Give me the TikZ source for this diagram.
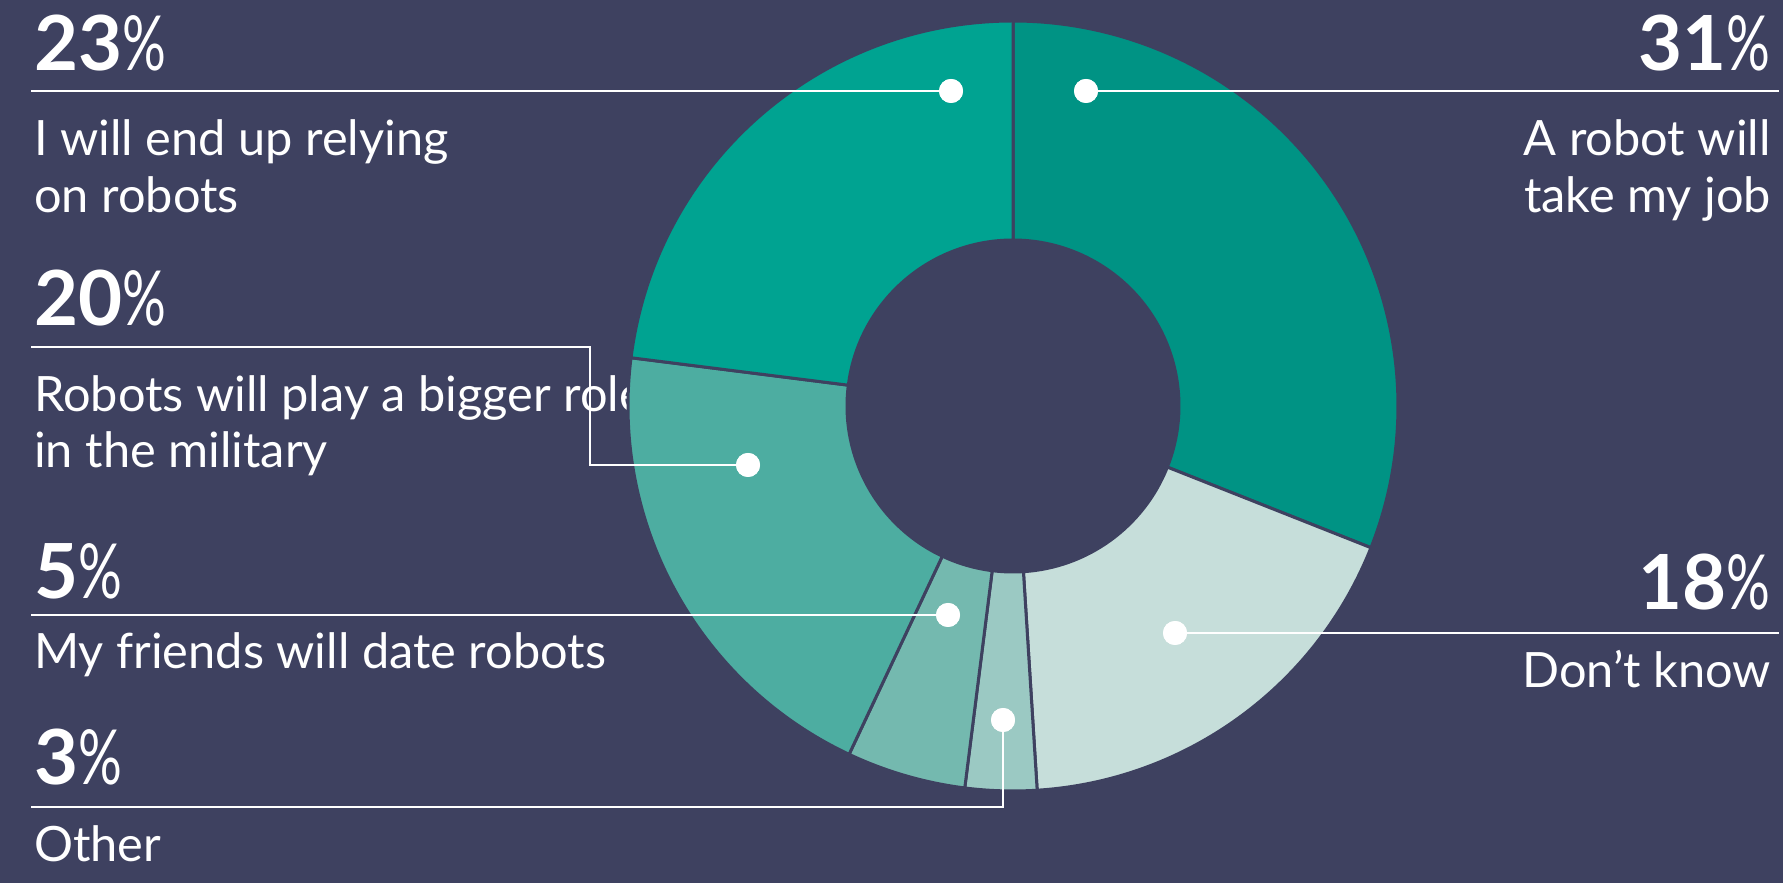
\documentclass[tikz,border=0pt]{standalone}
\usepackage{fontspec}
\setmainfont{Lato}
\usetikzlibrary{calc}
\definecolor{bg}{RGB}{62,65,96}
\definecolor{cA}{RGB}{0,147,132}
\definecolor{cB}{RGB}{198,222,218}
\definecolor{cC}{RGB}{155,201,195}
\definecolor{cD}{RGB}{116,185,175}
\definecolor{cE}{RGB}{77,173,161}
\definecolor{cF}{RGB}{0,163,145}
\newcommand\donutseg[3]{\fill[#1, draw=bg, line width=3] ($(C)+(#2:385)$) arc[start angle=#2, end angle=#3, radius=385] -- ($(C)+(#3:166)$) arc[start angle=#3, end angle=#2, radius=166] -- cycle;}
\newcommand\pc{\scalebox{0.72}[1]{\mdseries\%}}
\begin{document}
\begin{tikzpicture}[x=1pt,y=1pt,
  pct/.style={font=\fontsize{76}{76}\selectfont\bfseries, text=white, inner sep=0},
  lbl/.style={font=\fontsize{48.7}{56}\selectfont, text=white, inner sep=0},
  leader/.style={draw=white, line width=2},
  dot/.style={circle, fill=white, minimum size=24, inner sep=0}]
\fill[bg] (0,0) rectangle (1783,883);
\useasboundingbox (0,0) rectangle (1783,883);
\coordinate (C) at (1013,477);
% left texts
\node[pct, anchor=base west] (p23) at (34,812) {23\pc};
\node[lbl, anchor=base west] (t23a) at (34,727) {I will end up relying};
\node[lbl, anchor=base west] (t23b) at (34,670) {on robots};
\node[pct, anchor=base west] (p20) at (34,557) {20\pc};
\node[lbl, anchor=base west] (t20a) at (34,471) {Robots will play a bigger role};
\node[lbl, anchor=base west] (t20b) at (34,415) {in the military};
\node[pct, anchor=base west] (p5) at (34,284) {5\pc};
\node[lbl, anchor=base west] (t5) at (34,214) {My friends will date robots};
\node[pct, anchor=base west] (p3) at (34,98) {3\pc};
\node[lbl, anchor=base west] (t3) at (34,21) {Other};
% right texts
\node[pct, anchor=base east] (p31) at (1771,812) {31\pc};
\node[lbl, anchor=base east] (t31a) at (1771,727) {A robot will};
\node[lbl, anchor=base east] (t31b) at (1771,670) {take my job};
\node[pct, anchor=base east] (p18) at (1771,273) {18\pc};
\node[lbl, anchor=base east] (t18) at (1771,195) {Don’t know};
% donut
\donutseg{cA}{-21.6}{90}
\donutseg{cB}{-86.4}{-21.6}
\donutseg{cC}{-97.2}{-86.4}
\donutseg{cD}{-115.2}{-97.2}
\donutseg{cE}{172.8}{244.8}
\donutseg{cF}{90}{172.8}
% dots
\node[dot] (d23) at (951,792) {};
\node[dot] (d31) at (1086,792) {};
\node[dot] (d20) at (748,418) {};
\node[dot] (d5) at (948,268) {};
\node[dot] (d3) at (1003,163) {};
\node[dot] (d18) at (1175,250) {};
\coordinate (e23) at (31,792);
\coordinate (e20) at (31,536);
\coordinate (k20) at (590,418);
\coordinate (e5) at (31,268);
\coordinate (e3) at (31,76);
\coordinate (e31) at (1779,792);
\coordinate (e18) at (1779,250);
\draw[leader] (e23) -- (d23.center);
\draw[leader] (e20) -| (k20) -- (d20.center);
\draw[leader] (e5) -- (d5.center);
\draw[leader] (e3) -| (d3.center);
\draw[leader] (d31.center) -- (e31);
\draw[leader] (d18.center) -- (e18);
\node[dot] at (d23) {};
\node[dot] at (d31) {};
\node[dot] at (d20) {};
\node[dot] at (d5) {};
\node[dot] at (d3) {};
\node[dot] at (d18) {};
\end{tikzpicture}
\end{document}
